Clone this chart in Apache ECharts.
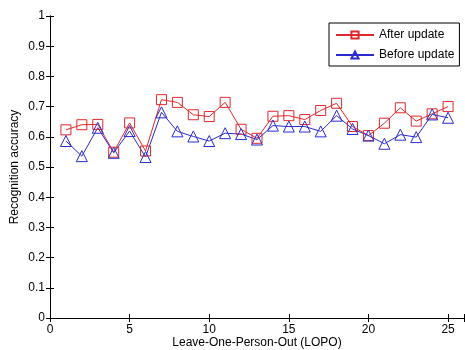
<!DOCTYPE html>
<html>
<head>
<meta charset="utf-8">
<script src="https://cdn.jsdelivr.net/npm/echarts@6/dist/echarts.min.js"></script>
<style>html,body{margin:0;padding:0;background:#fff}#c{width:465px;height:350px}</style>
</head>
<body>
<div id="c"></div>
<script>
var persons = [1,2,3,4,5,6,7,8,9,10,11,12,13,14,15,16,17,18,19,20,21,22,23,24,25];
var afterUpdate = [0.623,0.640,0.641,0.549,0.646,0.553,0.723,0.714,0.673,0.667,0.714,0.625,0.595,0.668,0.670,0.657,0.687,0.711,0.634,0.604,0.645,0.696,0.652,0.676,0.700];
var beforeUpdate = [0.586,0.536,0.630,0.547,0.619,0.533,0.681,0.618,0.601,0.586,0.612,0.609,0.591,0.637,0.634,0.634,0.618,0.670,0.626,0.604,0.577,0.607,0.599,0.674,0.663];
var seriesNames = ['After update','Before update'];
var xTitle = 'Leave-One-Person-Out (LOPO)';
var yTitle = 'Recognition accuracy';

var FONT = 'Liberation Sans, Arial, sans-serif';
var RED = '#e0282c', BLUE = '#2a2ad0';
function pairs(vals){ return persons.map(function(p,i){ return [p, vals[i]]; }); }

var chart = echarts.init(document.getElementById('c'));
var tickStyle = {show:true, inside:true, length:4, lineStyle:{color:'#000', width:1}};
var lineStyle = {show:true, lineStyle:{color:'#000', width:1}};
chart.setOption({
  animation:false,
  backgroundColor:'#fff',
  grid:{left:50, top:16, width:414, height:302, containLabel:false, outerBoundsMode:'none'},
  legend:{
    orient:'vertical', left:329, top:23,
    padding:[6,5,5,6], itemGap:8, itemWidth:38, itemHeight:9,
    borderColor:'#000', borderWidth:1, backgroundColor:'#fff',
    textStyle:{fontFamily:FONT, fontSize:12, color:'#000'},
    data:seriesNames
  },
  xAxis:[{
    type:'value', min:0, max:26, interval:5,
    name:xTitle, nameLocation:'middle', nameGap:19, nameMoveOverlap:false,
    nameTextStyle:{fontFamily:FONT, fontSize:12, color:'#000'},
    axisLine:lineStyle, axisTick:tickStyle, splitLine:{show:false},
    axisLabel:{fontFamily:FONT, fontSize:12, color:'#000', margin:6,
      formatter:function(v){ return v % 5 === 0 ? String(v) : ''; }}
  },{
    type:'value', min:0, max:26, interval:5, position:'top',
    axisLine:lineStyle, axisTick:tickStyle, splitLine:{show:false}, axisLabel:{show:false}
  }],
  yAxis:[{
    type:'value', min:0, max:1, interval:0.1,
    name:yTitle, nameLocation:'middle', nameGap:29, nameMoveOverlap:false,
    nameTextStyle:{fontFamily:FONT, fontSize:12, color:'#000'},
    axisLine:lineStyle, axisTick:tickStyle, splitLine:{show:false},
    axisLabel:{fontFamily:FONT, fontSize:12, color:'#000', margin:5,
      formatter:function(v){ return String(Math.round(v*10)/10); }}
  },{
    type:'value', min:0, max:1, interval:0.1, position:'right',
    axisLine:lineStyle, axisTick:tickStyle, splitLine:{show:false}, axisLabel:{show:false}
  }],
  series:[{
    name:seriesNames[0], type:'line', data:pairs(afterUpdate),
    symbol:'rect', symbolSize:10,
    lineStyle:{color:RED, width:1}, itemStyle:{color:'rgba(255,255,255,0)', borderColor:RED, borderWidth:1}
  },{
    name:seriesNames[1], type:'line', data:pairs(beforeUpdate),
    symbol:'triangle', symbolSize:11,
    lineStyle:{color:BLUE, width:1}, itemStyle:{color:'rgba(255,255,255,0)', borderColor:BLUE, borderWidth:1}
  }]
});
</script>
</body>
</html>
